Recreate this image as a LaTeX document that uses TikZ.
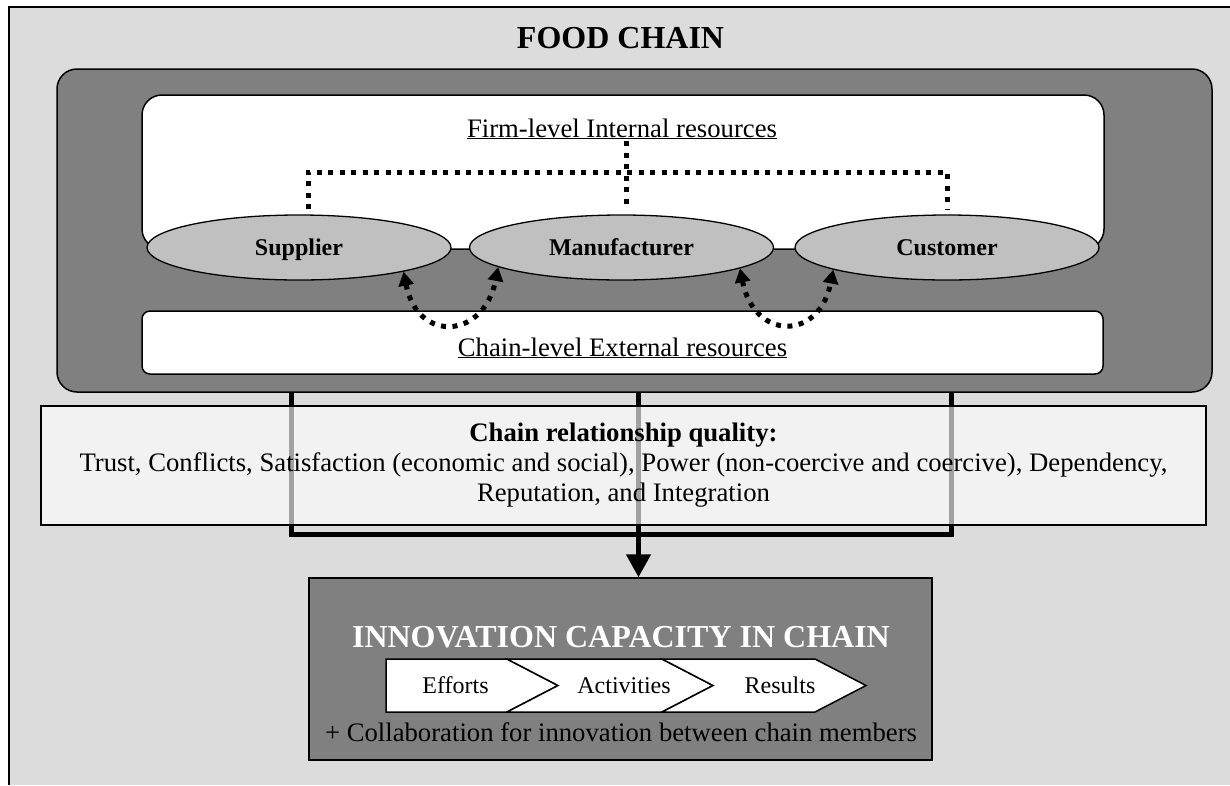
\documentclass[tikz,border=0pt]{standalone}
\usepackage{fontspec}
\setmainfont{Liberation Serif}
\usepackage{xcolor}
\usepackage{tikz}
\usetikzlibrary{shapes.geometric,arrows.meta}

\definecolor{framegray}{RGB}{220,220,220}
\definecolor{chaingray}{RGB}{128,128,128}
\definecolor{membergray}{RGB}{192,192,192}
\newcommand{\mainsize}{\fontsize{26.7}{30}\selectfont}

\tikzset{
  panel/.style={draw, line width=1.5pt, rounded corners=20pt, inner sep=0pt},
  member/.style={ellipse, draw, line width=1.3pt, fill=membergray, minimum width=304pt,
    minimum height=65pt, inner sep=0pt, font=\bfseries\fontsize{24}{28}\selectfont,
    text height=17pt, text depth=2pt},
  dotline/.style={line width=5pt, dash pattern=on 5pt off 6.5pt},
  bus/.style={line width=5pt},
  stage/.style={draw, line width=1.5pt, fill=white},
}

\begin{document}
\begin{tikzpicture}[x=1pt, y=1pt]
    \useasboundingbox (0,0) rectangle (1230,-785);

    % Frame
    \fill[framegray] (9,-7) rectangle (1230,-785);
    \draw[line width=1.5pt] (1230,-7) -- (9,-7) -- (9,-785);
    \node[anchor=base, font=\bfseries\fontsize{32}{36}\selectfont] (title) at (620.5,-48) {FOOD CHAIN};

    % Chain panel
    \node[panel, fill=chaingray, minimum width=1155pt, minimum height=323pt] (chain) at (634.5,-230.5) {};
    \node[panel, fill=white, minimum width=962pt, minimum height=154pt] (firm) at (623,-172) {};
    \node[anchor=base, font=\mainsize, inner sep=2pt] (firmtxt) at (622,-137) {\underline{Firm-level Internal resources}};

    % Chain members
    \node[member] (sup) at (299,-247.5) {Supplier};
    \node[member] (man) at (621.5,-247.5) {Manufacturer};
    \node[member] (cus) at (947,-247.5) {Customer};

    % Internal resources links
    \coordinate (hub) at (626,-172);
    \draw[dotline] (firmtxt.south -| hub) -- ([yshift=5pt]hub |- man.north);
    \draw[dotline] ([shift={(9pt,5pt)}]sup.north) |- (hub) -| ([yshift=5pt]cus.north);

    % External resources
    \node[panel, fill=white, rounded corners=8pt, minimum width=961pt, minimum height=63pt] (ext) at (622.5,-342.5) {};
    \node[anchor=base, font=\mainsize] (exttxt) at (622.5,-356) {\underline{Chain-level External resources}};

    \draw[dotline, {Triangle[length=14pt,width=15pt]}-{Triangle[length=14pt,width=15pt]}]
        (sup.-13) .. controls +(14,-72) and +(-14,-72) .. (man.-171);
    \draw[dotline, {Triangle[length=14pt,width=15pt]}-{Triangle[length=14pt,width=15pt]}]
        (man.-10) .. controls +(14,-72) and +(-14,-72) .. (cus.-169);

    % Innovation capacity
    \node[draw, line width=1.5pt, fill=chaingray, minimum width=623pt, minimum height=182pt] (inno) at (620.5,-669) {};
    \node[anchor=base, text=white, font=\bfseries\fontsize{32}{36}\selectfont] (innotitle) at (621,-647) {INNOVATION CAPACITY IN CHAIN};
    \filldraw[stage] (386,-659) -- (507,-659) -- (558,-685.5) -- (507,-712) -- (386,-712) -- cycle;
    \filldraw[stage] (507,-659) -- (662,-659) -- (713,-685.5) -- (662,-712) -- (507,-712) -- (558,-685.5) -- cycle;
    \filldraw[stage] (662,-659) -- (815,-659) -- (866,-685.5) -- (815,-712) -- (662,-712) -- (713,-685.5) -- cycle;
    \node[anchor=base, font=\fontsize{24}{28}\selectfont] (efforts) at (455.5,-693) {Efforts};
    \node[anchor=base, font=\fontsize{24}{28}\selectfont] (activities) at (624,-693) {Activities};
    \node[anchor=base, font=\fontsize{24}{28}\selectfont] (results) at (780,-693) {Results};
    \node[anchor=base, font=\mainsize] (collab) at (621,-741) {+ Collaboration for innovation between chain members};

    % Links to innovation
    \coordinate (busleft) at (291,-534.5);
    \coordinate (busright) at (951,-534.5);
    \coordinate (busmid) at (638.5,-534.5);
    \draw[bus] (chain.south -| busleft) -- (busleft) -- (busright) -- (chain.south -| busright);
    \draw[bus, -{Triangle[length=23pt,width=24pt]}] (chain.south -| busmid) -- (busmid |- inno.north);

    % Relationship quality
    \node[draw, line width=1.5pt, fill=white, fill opacity=0.63, text opacity=1, minimum width=1165pt,
        minimum height=119pt, align=center, font=\mainsize] (quality) at (623.5,-465.5)
        {\textbf{Chain relationship quality:}\\
         Trust, Conflicts, Satisfaction (economic and social), Power (non-coercive and coercive), Dependency,\\
         Reputation, and Integration};
\end{tikzpicture}
\end{document}
